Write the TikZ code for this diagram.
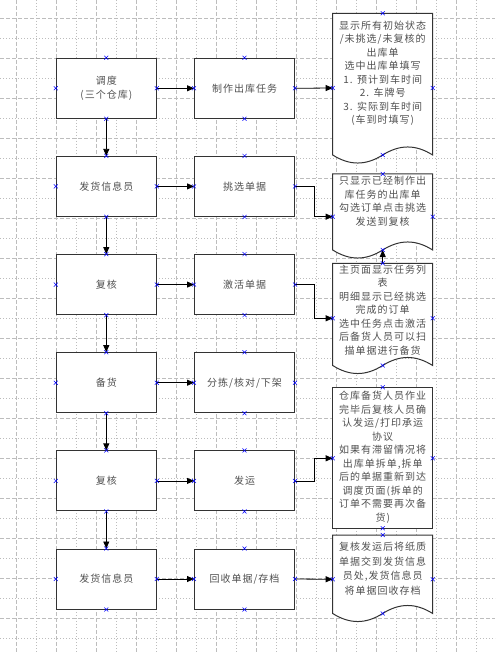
\documentclass[tikz,border=0pt]{standalone}
\usepackage{fontspec}
\setmainfont{Noto Sans CJK SC}[LetterSpace=10]
\usetikzlibrary{arrows.meta}
\definecolor{gridc}{HTML}{BDBDBD}
\definecolor{txt}{HTML}{505050}
\definecolor{edge}{HTML}{333333}
\begin{document}
\begin{tikzpicture}[x=1pt,y=-1pt,
 box/.style={draw=edge, line width=1pt, fill=white, minimum width=100pt, minimum height=60pt, inner sep=0pt, text=txt, font=\fontsize{10}{14}\selectfont, align=center},
 doctext/.style={anchor=north, inner sep=0pt, text=txt, align=center, font=\fontsize{10}{13.5}\selectfont},
 docline/.style={draw=edge, line width=1pt, fill=white},
 arr/.style={draw=black, line width=0.8pt, -{Triangle[length=7pt,width=6pt]}},
 xmark/.pic={\draw[blue, line width=0.5pt] (-2,-2)--(2,2) (-2,2)--(2,-2);},
 gdash/.style={draw=gridc, line width=0.8pt, dash pattern=on 4pt off 2pt},
 gdot/.style={draw=gridc, line width=0.8pt, dash pattern=on 1pt off 2pt}]
\useasboundingbox (0,0) rectangle (495,652);
\fill[white] (0,0) rectangle (495,652);
% grid
\foreach \k in {0,...,15} {
  \draw[gdash] (0,18.3+40*\k) -- (495,18.3+40*\k);
  \draw[gdot] (0,38.3+40*\k) -- (495,38.3+40*\k);
}
\foreach \k in {0,...,11} {
  \draw[gdash] (16.7+40*\k,0) -- (16.7+40*\k,652);
  \draw[gdot] (36.7+40*\k,0) -- (36.7+40*\k,652);
}
% left column
\node[box] (a1) at (106.3,88.3) {调度\\(三个仓库)};
\node[box] (a2) at (106.3,186.4) {发货信息员};
\node[box] (a3) at (106.3,284.6) {复核};
\node[box] (a4) at (106.3,382.7) {备货};
\node[box] (a5) at (106.3,480.9) {复核};
\node[box] (a6) at (106.3,579.0) {发货信息员};
% middle column
\node[box] (b1) at (244.5,88.3) {制作出库任务};
\node[box] (b2) at (244.5,186.4) {挑选单据};
\node[box] (b3) at (244.5,284.6) {激活单据};
\node[box] (b4) at (244.5,382.7) {分拣/核对/下架};
\node[box] (b5) at (244.5,480.9) {发运};
\node[box] (b6) at (244.5,579.0) {回收单据/存档};
% documents
\draw[docline] (332.7,13.3) -- (432.7,13.3) -- (432.7,155) .. controls (415.7,144.3) and (399.7,144.3) .. (382.7,155) .. controls (365.7,165.7) and (349.7,165.7) .. (332.7,155) -- cycle;
\coordinate (d1n) at (382.7,13.3); \coordinate (d1s) at (382.7,155);
\coordinate (d1w) at (332.7,88); \coordinate (d1e) at (432.7,88);
\node[doctext] (t1) at (382.7,20.5) {显示所有初始状态\\/未挑选/未复核的\\出库单\\选中出库单填写\\1. 预计到车时间\\2. 车牌号\\3. 实际到车时间\\(车到时填写)};

\draw[docline] (332.7,174) -- (432.7,174) -- (432.7,250) .. controls (415.7,239.3) and (399.7,239.3) .. (382.7,250) .. controls (365.7,260.7) and (349.7,260.7) .. (332.7,250) -- cycle;
\coordinate (d2n) at (382.7,174); \coordinate (d2s) at (382.7,250);
\coordinate (d2w) at (332.7,216.7); \coordinate (d2e) at (432.7,216.7);
\node[doctext] (t2) at (382.7,176.2) {只显示已经制作出\\库任务的出库单\\勾选订单点击挑选\\发送到复核};

\draw[docline] (332.7,263.3) -- (432.7,263.3) -- (432.7,365.5) .. controls (415.7,354.8) and (399.7,354.8) .. (382.7,365.5) .. controls (365.7,376.2) and (349.7,376.2) .. (332.7,365.5) -- cycle;
\coordinate (d3n) at (382.7,263.3); \coordinate (d3s) at (382.7,365.5);
\coordinate (d3w) at (332.7,318.3); \coordinate (d3e) at (432.7,318.3);
\node[doctext] (t3) at (382.7,264.5) {主页面显示任务列\\表\\明细显示已经挑选\\完成的订单\\选中任务点击激活\\后备货人员可以扫\\描单据进行备货};

\draw[docline] (332.7,387.3) rectangle (432.7,528.3);
\coordinate (d4n) at (382.7,387.3); \coordinate (d4s) at (382.7,528.3);
\coordinate (d4w) at (332.7,458.3); \coordinate (d4e) at (432.7,458.3);
\node[doctext] (t4) at (382.7,391.2) {仓库备货人员作业\\完毕后复核人员确\\认发运/打印承运\\协议\\如果有滞留情况将\\出库单拆单,拆单\\后的单据重新到达\\调度页面(拆单的\\订单不需要再次备\\货)};

\draw[docline] (332.7,535) -- (432.7,535) -- (432.7,613.5) .. controls (415.7,602.8) and (399.7,602.8) .. (382.7,613.5) .. controls (365.7,624.2) and (349.7,624.2) .. (332.7,613.5) -- cycle;
\coordinate (d5n) at (382.7,535); \coordinate (d5s) at (382.7,613.5);
\coordinate (d5w) at (332.7,579.3); \coordinate (d5e) at (432.7,579.3);
\node[doctext, font=\fontsize{10}{14.5}\selectfont] (t5) at (382.7,542.2) {复核发运后将纸质\\单据交到发货信息\\员处,发货信息员\\将单据回收存档};
% connectors
\draw[arr] (a1.south) -- (a2.north);
\draw[arr] (a2.south) -- (a3.north);
\draw[arr] (a3.south) -- (a4.north);
\draw[arr] (a4.south) -- (a5.north);
\draw[arr] (a5.south) -- (a6.north);
\draw[arr] (a1.east) -- (b1.west);
\draw[arr] (a2.east) -- (b2.west);
\draw[arr] (a3.east) -- (b3.west);
\draw[arr] (a4.east) -- (b4.west);
\draw[arr] (a5.east) -- (b5.west);
\draw[arr] (a6.east) -- (b6.west);
\draw[arr] (b1.east) -- (d1w);
\draw[arr] (b2.east) -- ++(19,0) |- (d2w);
\draw[arr] (b3.east) -- ++(19,0) |- (d3w);
\draw[arr] (b5.east) -- ++(19,0) |- (d4w);
\draw[arr] (b6.east) -- (d5w);
\draw[arr] (d3n) -- (d2s);
% connection marks
\foreach \n in {a1,a2,a3,a4,a5,a6,b1,b2,b3,b4,b5,b6}
  \foreach \an in {north,south,east,west}
    \pic at (\n.\an) {xmark};
\foreach \c in {d1n,d1s,d1w,d1e,d2n,d2s,d2w,d2e,d3n,d3s,d3w,d3e,d4n,d4s,d4w,d4e,d5n,d5s,d5w,d5e}
  \pic at (\c) {xmark};
\end{tikzpicture}
\end{document}
